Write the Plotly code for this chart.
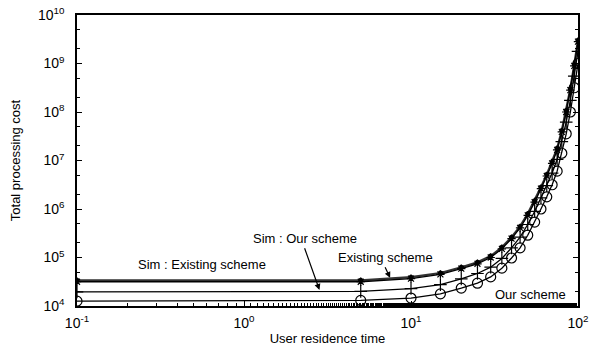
import plotly.graph_objects as go

residence_time = [0.1, 5, 10, 15, 20, 25, 30, 35, 40, 45, 50, 55, 60, 65, 70, 75, 80, 85, 90, 95, 100]

our_scheme = [12600, 13000, 14600, 17800, 23400, 29500, 39800, 60300, 97700, 158000, 288000,
              537000, 1.0e6, 1.78e6, 3.16e6, 6.03e6, 1.41e7, 3.55e7, 1.0e8, 3.16e8, 1.0e9]
sim_our_scheme = [19500, 20000, 22900, 27500, 36300, 46800, 63100, 95500, 158000, 263000, 479000,
                  891000, 1.70e6, 3.02e6, 5.50e6, 1.05e7, 2.45e7, 6.17e7, 1.74e8, 5.50e8, 1.78e9]
existing_scheme = [31600, 31600, 36700, 44700, 58900, 74100, 100000, 151000, 245000, 407000, 741000,
                   1.38e6, 2.63e6, 4.79e6, 8.71e6, 1.66e7, 3.89e7, 1.0e8, 2.82e8, 8.91e8, 2.82e9]
sim_existing_scheme = [33900, 33900, 39300, 47900, 63100, 79400, 107000, 162000, 263000, 437000, 794000,
                       1.48e6, 2.82e6, 5.13e6, 9.33e6, 1.78e7, 4.17e7, 1.07e8, 3.02e8, 9.55e8, 3.02e9]

x_tickvals = [0.1, 1, 10, 100]
x_ticktext = ["10<sup>-1</sup>", "10<sup>0</sup>", "10<sup>1</sup>", "10<sup>2</sup>"]
y_tickvals = [1e4, 1e5, 1e6, 1e7, 1e8, 1e9, 1e10]
y_ticktext = ["10<sup>4</sup>", "10<sup>5</sup>", "10<sup>6</sup>", "10<sup>7</sup>",
              "10<sup>8</sup>", "10<sup>9</sup>", "10<sup>10</sup>"]

FONT = "Liberation Sans, Arial, sans-serif"

fig = go.Figure()
fig.add_trace(go.Scatter(x=residence_time, y=sim_existing_scheme, mode="lines+markers",
                         line=dict(color="#333", width=2.2),
                         marker=dict(symbol="circle", size=5, color="black"),
                         name="Sim : Existing scheme"))
fig.add_trace(go.Scatter(x=residence_time, y=existing_scheme, mode="lines+markers",
                         line=dict(color="black", width=1.3),
                         marker=dict(symbol="asterisk-open", size=7, color="black",
                                     line=dict(color="black", width=1.2)),
                         name="Existing scheme"))
fig.add_trace(go.Scatter(x=residence_time, y=sim_our_scheme, mode="lines+markers",
                         line=dict(color="black", width=1.3),
                         marker=dict(symbol="cross-thin-open", size=9, color="black",
                                     line=dict(color="black", width=1.2)),
                         name="Sim : Our scheme"))
fig.add_trace(go.Scatter(x=residence_time, y=our_scheme, mode="lines+markers",
                         line=dict(color="black", width=1.3),
                         marker=dict(symbol="circle-open", size=10, color="black",
                                     line=dict(color="black", width=1.2)),
                         name="Our scheme"))

ann_font = dict(family=FONT, size=13, color="black")
fig.add_annotation(x=-0.25, y=4.85, xref="x", yref="y", text="Sim : Existing scheme",
                   showarrow=False, font=ann_font)
fig.add_annotation(x=0.452, y=4.33, ax=0.363, ay=5.19, xref="x", yref="y", axref="x", ayref="y",
                   text="Sim : Our scheme", showarrow=True, arrowhead=2, arrowsize=1,
                   arrowwidth=1.2, arrowcolor="black", font=ann_font, yanchor="bottom",
                   xanchor="center", standoff=0)
fig.add_annotation(x=0.875, y=4.58, ax=0.845, ay=4.8, xref="x", yref="y", axref="x", ayref="y",
                   text="Existing scheme", showarrow=True, arrowhead=2, arrowsize=1,
                   arrowwidth=1.2, arrowcolor="black", font=ann_font, yanchor="bottom",
                   standoff=0)
fig.add_annotation(x=1.714, y=4.23, xref="x", yref="y", text="Our scheme",
                   showarrow=False, font=ann_font)

fig.update_xaxes(type="log", range=[-1, 2], tickvals=x_tickvals, ticktext=x_ticktext,
                 ticks="inside", ticklen=5, tickcolor="black", showline=True, linecolor="black",
                 linewidth=1.5, mirror=True, showgrid=False, zeroline=False,
                 minor=dict(ticks="inside", ticklen=3, tickcolor="black", showgrid=False),
                 ticklabelstandoff=3,
                 title=dict(text="User residence time", font=dict(family=FONT, size=13), standoff=4),
                 tickfont=dict(family=FONT, size=14, color="black"))
fig.update_yaxes(type="log", range=[4, 10], tickvals=y_tickvals, ticktext=y_ticktext,
                 ticks="inside", ticklen=5, tickcolor="black", showline=True, linecolor="black",
                 linewidth=1.5, mirror="ticks", showgrid=False, zeroline=False,
                 minor=dict(ticks="inside", ticklen=3, tickcolor="black", showgrid=False),
                 ticklabelstandoff=8,
                 title=dict(text="Total processing cost", font=dict(family=FONT, size=13), standoff=14),
                 tickfont=dict(family=FONT, size=14, color="black"))

fig.update_layout(width=596, height=349, margin=dict(l=77, r=18, t=15, b=43, autoexpand=False),
                  plot_bgcolor="white", paper_bgcolor="white", showlegend=False,
                  font=dict(family=FONT, color="black"))

fig.write_html("out.html", config={"displayModeBar": False},
               post_script="document.body.style.margin='0';")
